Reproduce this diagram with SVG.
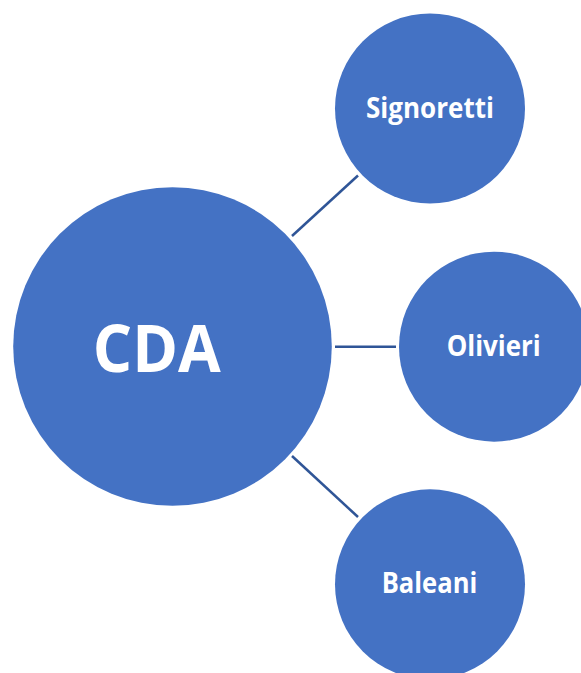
<svg xmlns="http://www.w3.org/2000/svg" width="581" height="673" viewBox="0 0 581 673">
<style>
.node{fill:#4472C4}
.lbl{fill:#FFFFFF;font-family:"Open Sans","Liberation Sans",sans-serif;font-weight:bold;text-anchor:middle}
.small{font-size:29px}
.conn{stroke:#2F5597;stroke-width:2.5;fill:none}
</style>
<rect width="581" height="673" fill="#FFFFFF"/>
<g id="connectors">
<line class="conn" x1="292" y1="236" x2="358" y2="175.5"/>
<line class="conn" x1="335" y1="346.7" x2="396" y2="346.7"/>
<line class="conn" x1="292" y1="456" x2="358" y2="517"/>
</g>
<g id="node-cda">
<circle class="node" cx="172.5" cy="346.5" r="159.3"/>
<text class="lbl" x="156.7" y="371.5" font-size="67" textLength="128" lengthAdjust="spacingAndGlyphs">CDA</text>
</g>
<g id="node-signoretti">
<circle class="node" cx="430" cy="108.5" r="95"/>
<text class="lbl small" x="430" y="118.3" textLength="128" lengthAdjust="spacingAndGlyphs">Signoretti</text>
</g>
<g id="node-olivieri">
<circle class="node" cx="494" cy="346.7" r="95"/>
<text class="lbl small" x="493.7" y="356" textLength="94" lengthAdjust="spacingAndGlyphs">Olivieri</text>
</g>
<g id="node-baleani">
<circle class="node" cx="430" cy="584.3" r="95"/>
<text class="lbl small" x="429.5" y="593.3" textLength="95.6" lengthAdjust="spacingAndGlyphs">Baleani</text>
</g>
</svg>
